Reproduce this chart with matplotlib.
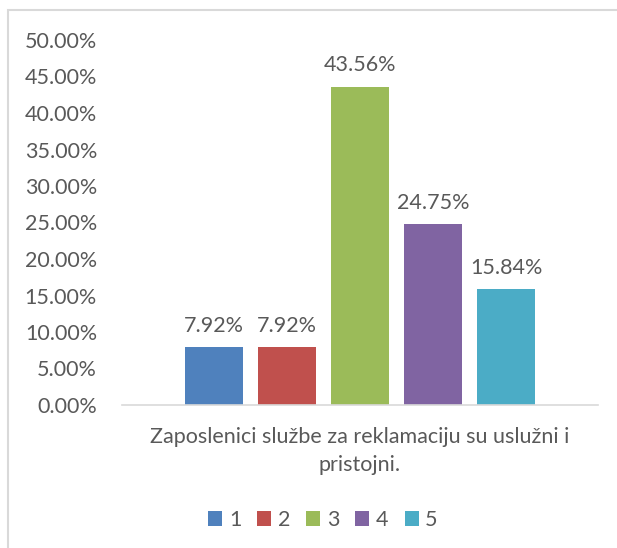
import matplotlib.pyplot as plt
from matplotlib.patches import Rectangle
from matplotlib.ticker import FuncFormatter

plt.rcParams['font.family'] = ['Lato', 'DejaVu Sans']

labels = ['1', '2', '3', '4', '5']
values = [7.92, 7.92, 43.56, 24.75, 15.84]
colors = ['#4f81bd', '#c0504d', '#9bbb59', '#8064a2', '#4bacc6']
category = 'Zaposlenici službe za reklamaciju su uslužni i\npristojni.'
text_color = '#595959'
fs = 15.5

fig = plt.figure(figsize=(6.17, 5.48), dpi=100)
fig.patches.append(Rectangle((8 / 617, -0.01), 1.0, 1 - 10 / 548 + 0.01,
                             transform=fig.transFigure, fill=False,
                             edgecolor='#d9d9d9', linewidth=1.5))

ax = fig.add_axes([122 / 617, 1 - 405 / 548, 476 / 617, (405 - 40) / 548])
positions = [i - 2 for i in range(len(values))]
bars = ax.bar(positions, values, width=0.8, color=colors, label=labels)

for b, v in zip(bars, values):
    ax.text(b.get_x() + b.get_width() / 2, v + 1.6, f'{v:.2f}%',
            ha='center', va='bottom', fontsize=fs, color=text_color)

ax.set_xlim(-3.26, 3.26)
ax.set_ylim(0, 50)
ax.set_yticks(range(0, 51, 5))
ax.yaxis.set_major_formatter(FuncFormatter(lambda y, _: f'{y:.2f}%'))
ax.tick_params(axis='y', length=0, pad=18, labelsize=fs, labelcolor=text_color)
ax.set_xticks([])
for s in ['top', 'right', 'left']:
    ax.spines[s].set_visible(False)
ax.spines['bottom'].set_color('#d9d9d9')
ax.spines['bottom'].set_linewidth(1.2)
ax.set_xlabel(category, fontsize=fs, color=text_color, labelpad=16, linespacing=1.5)

ax.legend(handles=bars, labels=labels, loc='center', bbox_to_anchor=(323 / 617, 1 - 520 / 548),
          bbox_transform=fig.transFigure, ncol=5, frameon=False, fontsize=fs,
          handlelength=0.65, handleheight=0.65, handletextpad=0.3, columnspacing=0.75,
          labelcolor=text_color)

fig.savefig('out.png', dpi=100)
